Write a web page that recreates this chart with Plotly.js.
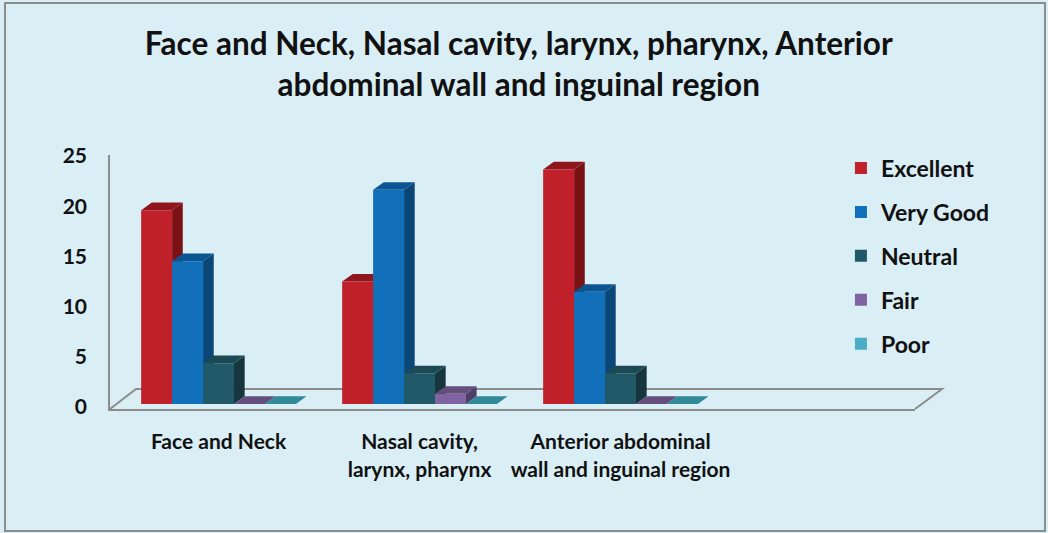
<!DOCTYPE html>
<html>
<head>
<meta charset="utf-8">
<script src="https://cdn.plot.ly/plotly-3.0.1.min.js"></script>
<style>
  html, body { margin: 0; padding: 0; background: #DAEEF5; }
  #chart { width: 1048px; height: 533px; }
</style>
</head>
<body>
<div id="chart"></div>
<script>
// data
const categories = ['Face and Neck', 'Nasal cavity,<br>larynx, pharynx', 'Anterior abdominal<br>wall and inguinal region'];
const seriesNames = ['Excellent', 'Very Good', 'Neutral', 'Fair', 'Poor'];
const excellent = [19, 12, 23];
const veryGood = [14, 21, 11];
const neutral = [4, 3, 3];
const fair = [0, 1, 0];
const poor = [0, 0, 0];
const yTicks = [0, 5, 10, 15, 20, 25];

const seriesValues = [excellent, veryGood, neutral, fair, poor];
// front, top, side colours
const frontColors = ['#C0202A', '#1170B9', '#215968', '#8064A2', '#4BACC6'];
const topColors = ['#8E161C', '#0B5592', '#1B4A55', '#634E7E', '#31899A'];
const sideColors = ['#7A1114', '#0A4676', '#17353D', '#503E66', '#2A7482'];

const FONT = 'Lato, "Open Sans", sans-serif';
const xPos = categories.map((c, i) => i);

const traces = seriesNames.map((name, i) => ({
    type: 'bar',
    name: name,
    x: xPos,
    y: seriesValues[i],
    legendgroup: name,
    marker: { color: frontColors[i], line: { width: 0 } },
    hoverinfo: 'name+y'
}));

// empty trace so the back-wall value axis (y2) gets drawn
traces.push({
    type: 'scatter', x: [], y: [], yaxis: 'y2',
    showlegend: false, hoverinfo: 'skip'
});

// fake 3D: top and side faces for each bar
const bargap = 0.23;
const barW = (1 - bargap) / seriesNames.length;
const dx = 0.053, dy = 0.75;
const shapes = [];

// floor and outer frame (pixel offsets from plot origin)
shapes.push({
    type: 'path', layer: 'below',
    xref: 'paper', yref: 'paper', xsizemode: 'pixel', ysizemode: 'pixel', xanchor: 0, yanchor: 0,
    path: 'M0,0 L26,20 L832,20 L805,0',
    line: { color: '#8C8C8C', width: 2 }
});
shapes.push({
    type: 'rect', layer: 'below',
    xref: 'paper', yref: 'paper', xsizemode: 'pixel', ysizemode: 'pixel', xanchor: 0, yanchor: 0,
    x0: -105, x1: 935, y0: -122, y1: 406,
    line: { color: '#8C8C8C', width: 2 }
});

seriesValues.forEach((vals, i) => {
    vals.forEach((v, c) => {
        const left = c - (1 - bargap) / 2 + i * barW;
        const right = left + barW;
        if (v > 0) {
            shapes.push({
                type: 'path', layer: 'below', xref: 'x', yref: 'y',
                path: `M${right},0 L${right},${v} L${right + dx},${v + dy} L${right + dx},${dy} Z`,
                fillcolor: sideColors[i], line: { width: 0 }
            });
        }
        shapes.push({
            type: 'path', layer: 'below', xref: 'x', yref: 'y',
            path: `M${left},${v} L${right},${v} L${right + dx},${v + dy} L${left + dx},${v + dy} Z`,
            fillcolor: topColors[i], line: { width: 0 }
        });
    });
});

const layout = {
    width: 1048,
    height: 533,
    paper_bgcolor: '#DAEEF5',
    plot_bgcolor: 'rgba(0,0,0,0)',
    font: { family: FONT, size: 21, color: '#111111', weight: 'bold' },
    margin: { l: 110, r: 133, t: 155, b: 124 },
    title: {
        text: 'Face and Neck, Nasal cavity, larynx, pharynx, Anterior<br>abdominal wall and inguinal region',
        font: { family: FONT, size: 31.5, color: '#111111', weight: 'bold' },
        x: 0.495, xanchor: 'center',
        y: 0.897, yanchor: 'middle'
    },
    barmode: 'group',
    bargap: bargap,
    bargroupgap: 0,
    xaxis: {
        range: [-0.54, 3.465],
        tickvals: xPos,
        ticktext: categories,
        showgrid: false,
        zeroline: false,
        showline: true,
        linecolor: '#8C8C8C',
        linewidth: 2,
        ticks: '',
        ticklabelstandoff: 13,
        tickfont: { family: FONT, size: 21, color: '#111111', weight: 'bold' }
    },
    yaxis: {
        range: [-0.49, 24.41],
        showgrid: false,
        zeroline: false,
        showline: true,
        linecolor: '#8C8C8C',
        linewidth: 2,
        showticklabels: false,
        ticks: ''
    },
    yaxis2: {
        overlaying: 'y',
        side: 'left',
        range: [-0.2, 25.1],
        tickvals: yTicks,
        showgrid: false,
        zeroline: false,
        showline: false,
        ticks: '',
        ticklabelstandoff: 22,
        tickfont: { family: FONT, size: 21, color: '#111111', weight: 'bold' }
    },
    legend: {
        x: 0.908, xanchor: 'left',
        y: 1.033, yanchor: 'top',
        bgcolor: 'rgba(0,0,0,0)',
        traceorder: 'grouped',
        tracegroupgap: 11,
        font: { family: FONT, size: 23, color: '#111111', weight: 'bold' }
    },
    shapes: shapes,
    showlegend: true
};

Plotly.newPlot('chart', traces, layout, { displayModeBar: false, staticPlot: true });
</script>
</body>
</html>
